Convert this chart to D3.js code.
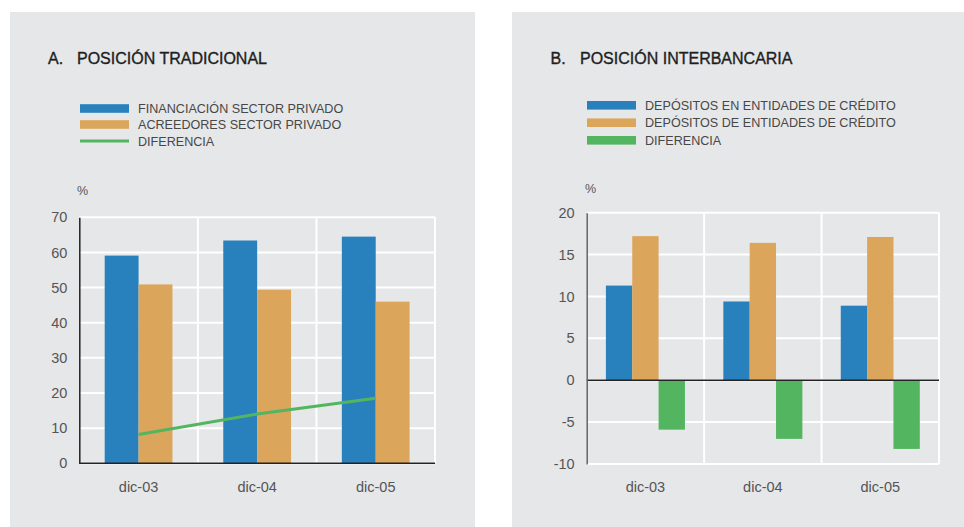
<!DOCTYPE html>
<html>
<head>
<meta charset="utf-8">
<script src="https://cdn.jsdelivr.net/npm/d3@7"></script>
<style>
  html, body { margin: 0; padding: 0; background: #ffffff; }
  svg { display: block; }
  text { font-family: "Liberation Sans", Arial, Helvetica, sans-serif; }
</style>
</head>
<body>
<svg id="chart" width="964" height="527"></svg>
<script>
// Categories shared by both panels
const categories = ["dic-03", "dic-04", "dic-05"];

// Panel A: traditional position (%)
const financiacionSectorPrivado = [59.1, 63.4, 64.5];
const acreedoresSectorPrivado = [50.9, 49.4, 46.0];
const diferenciaA = [8.2, 14.0, 18.5];
const ticksA = [0, 10, 20, 30, 40, 50, 60, 70];

// Panel B: interbank position (%)
const depositosEnEntidades = [11.3, 9.4, 8.9];
const depositosDeEntidades = [17.2, 16.4, 17.1];
const diferenciaB = [-5.9, -7.0, -8.2];
const ticksB = [-10, -5, 0, 5, 10, 15, 20];

const COLORS = { blue: "#2880bd", orange: "#dba55b", green: "#53b560" };
const BG = "#e6e7e9";

const svg = d3.select("#chart");

function panel(cfg) {
  const g = svg.append("g");
  g.append("rect")
    .attr("x", cfg.bg[0]).attr("y", cfg.bg[1])
    .attr("width", cfg.bg[2]).attr("height", cfg.bg[3])
    .attr("fill", BG);

  // Title
  [[cfg.titleX, cfg.letter], [cfg.titleX2, cfg.title]].forEach(([tx, t]) => {
    g.append("text").attr("x", tx).attr("y", cfg.titleY)
      .attr("font-size", 16).attr("fill", "#1e1e1e")
      .attr("stroke", "#1e1e1e").attr("stroke-width", 0.35)
      .text(t);
  });

  // Legend
  cfg.legend.forEach((it, i) => {
    const cy = cfg.legendY[i];
    if (it.type === "line") {
      g.append("line").attr("x1", cfg.legendX).attr("x2", cfg.legendX + 49)
        .attr("y1", cy).attr("y2", cy)
        .attr("stroke", it.color).attr("stroke-width", 3);
    } else {
      g.append("rect").attr("x", cfg.legendX).attr("y", cy - 4.3)
        .attr("width", 49).attr("height", 8.6).attr("fill", it.color);
    }
    g.append("text").attr("x", cfg.legendX + 58).attr("y", cy)
      .attr("dy", "0.36em").attr("font-size", 12.6).attr("fill", "#474747")
      .text(it.label);
  });

  // Unit label
  g.append("text").attr("x", cfg.unitX).attr("y", cfg.unitY)
    .attr("dy", "0.36em").attr("font-size", 12.5).attr("fill", "#555")
    .text("%");

  const bars = cfg.series.filter(s => s.type === "bar");
  const x = d3.scaleBand().domain(categories).range(cfg.xRange);
  const y = d3.scaleLinear().domain(cfg.yDomain).range(cfg.yRange);
  const inner = d3.scaleBand().domain(d3.range(bars.length))
    .range([cfg.groupPad, x.bandwidth() - cfg.groupPad]);

  // Horizontal grid
  g.append("g").selectAll("line").data(cfg.ticks).join("line")
    .attr("x1", cfg.xRange[0]).attr("x2", cfg.xRange[1])
    .attr("y1", d => y(d)).attr("y2", d => y(d))
    .attr("stroke", "#ffffff").attr("stroke-width", 2);

  // Vertical grid at category boundaries and right edge
  const vx = categories.slice(1).map(c => x(c)).concat([cfg.xRange[1]]);
  g.append("g").selectAll("line").data(vx).join("line")
    .attr("x1", d => d).attr("x2", d => d)
    .attr("y1", y(cfg.yDomain[1])).attr("y2", y(cfg.yDomain[0]))
    .attr("stroke", "#ffffff").attr("stroke-width", 2);

  // Bars
  bars.forEach((s, si) => {
    g.append("g").selectAll("rect").data(s.values).join("rect")
      .attr("x", (d, i) => x(categories[i]) + inner(si))
      .attr("width", inner.bandwidth())
      .attr("y", d => y(Math.max(0, d)))
      .attr("height", d => Math.abs(y(d) - y(0)))
      .attr("fill", s.color);
  });

  // Lines
  cfg.series.filter(s => s.type === "line").forEach(s => {
    const line = d3.line()
      .x((d, i) => x(categories[i]) + x.bandwidth() / 2)
      .y(d => y(d));
    g.append("path").datum(s.values).attr("d", line)
      .attr("fill", "none").attr("stroke", s.color).attr("stroke-width", 3);
  });

  // Zero baseline
  g.append("line").attr("x1", cfg.xRange[0]).attr("x2", cfg.xRange[1])
    .attr("y1", y(0)).attr("y2", y(0))
    .attr("stroke", "#222").attr("stroke-width", 1.5);

  // Y axis (plain hyphen for negative values)
  const yAxis = d3.axisLeft(y).tickValues(cfg.ticks).tickSize(0).tickPadding(12)
    .tickFormat(d => String(d));
  const ya = g.append("g").attr("transform", `translate(${cfg.xRange[0]},0)`).call(yAxis);
  ya.select(".domain").attr("stroke", cfg.axisColor).attr("stroke-width", 1.5);
  ya.selectAll("text").attr("font-size", 14.5).attr("fill", "#555")
    .style("font-family", "'Liberation Sans', Arial, sans-serif");

  // X axis labels
  const xAxis = d3.axisBottom(x).tickSize(0).tickPadding(0);
  const xa = g.append("g").attr("transform", `translate(0,${cfg.xLabelY})`).call(xAxis);
  xa.select(".domain").remove();
  xa.selectAll("text").attr("font-size", 14.5).attr("fill", "#555")
    .attr("dy", "0.36em").attr("y", 0)
    .style("font-family", "'Liberation Sans', Arial, sans-serif");
}

panel({
  bg: [10, 12, 465, 515],
  letter: "A.", title: "POSICIÓN TRADICIONAL",
  titleX: 48, titleX2: 77, titleY: 64,
  legendX: 80, legendY: [108.5, 124.5, 141],
  legend: [
    { label: "FINANCIACIÓN SECTOR PRIVADO", color: COLORS.blue, type: "rect" },
    { label: "ACREEDORES SECTOR PRIVADO", color: COLORS.orange, type: "rect" },
    { label: "DIFERENCIA", color: COLORS.green, type: "line" }
  ],
  unitX: 77, unitY: 190,
  xRange: [79.3, 435], yDomain: [0, 70], yRange: [463.3, 217.3],
  ticks: ticksA, groupPad: 25.4, axisColor: "#222",
  xLabelY: 487,
  series: [
    { values: financiacionSectorPrivado, color: COLORS.blue, type: "bar" },
    { values: acreedoresSectorPrivado, color: COLORS.orange, type: "bar" },
    { values: diferenciaA, color: COLORS.green, type: "line" }
  ]
});

panel({
  bg: [512, 12, 452, 515],
  letter: "B.", title: "POSICIÓN INTERBANCARIA",
  titleX: 550.5, titleX2: 580, titleY: 64,
  legendX: 587, legendY: [105.3, 122.7, 140.3],
  legend: [
    { label: "DEPÓSITOS EN ENTIDADES DE CRÉDITO", color: COLORS.blue, type: "rect" },
    { label: "DEPÓSITOS DE ENTIDADES DE CRÉDITO", color: COLORS.orange, type: "rect" },
    { label: "DIFERENCIA", color: COLORS.green, type: "rect" }
  ],
  unitX: 585, unitY: 188,
  xRange: [586.7, 939], yDomain: [-10, 20], yRange: [464, 212.7],
  ticks: ticksB, groupPad: 19.2, axisColor: "#666",
  xLabelY: 487,
  series: [
    { values: depositosEnEntidades, color: COLORS.blue, type: "bar" },
    { values: depositosDeEntidades, color: COLORS.orange, type: "bar" },
    { values: diferenciaB, color: COLORS.green, type: "bar" }
  ]
});
</script>
</body>
</html>
